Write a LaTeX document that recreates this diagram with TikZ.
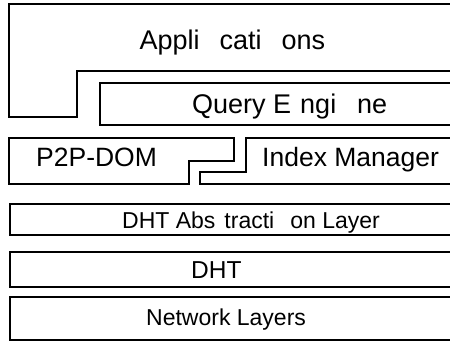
\documentclass[tikz,border=0pt]{standalone}
\usepackage{fontspec}
\setmainfont{Liberation Sans}

\tikzset{
  layer/.style={line width=1.3pt, line join=miter},
  caption/.style={anchor=base west, inner sep=0pt},
}
\newcommand{\gap}[1]{\hspace*{#1pt}}

\begin{document}
\begin{tikzpicture}[x=1pt, y=-1pt]
    % Page frame, layers run off to the right
    \clip (0,0) rectangle (450,341);

    % Applications, stepped round the query engine
    \draw[layer] (470,4) -- (9,4) -- (9,117) -- (77,117) -- (77,71) -- (470,71);
    \node[caption, font=\fontsize{27}{31}\selectfont] (apps) at (139.5,49.5)
        {Appli\gap{20}cati\gap{20}ons};

    % Query engine
    \draw[layer] (470,83) -- (100,83) -- (100,125) -- (470,125);
    \node[caption, font=\fontsize{27}{31}\selectfont] (query) at (192,113)
        {Query E\gap{9}ngi\gap{21}ne};

    % P2P-DOM and index manager, interlocked
    \draw[layer] (9,138) -- (234,138) -- (234,161) -- (189,161) -- (189,184) -- (9,184) -- cycle;
    \draw[layer] (470,138) -- (246,138) -- (246,172) -- (200,172) -- (200,184) -- (470,184);
    \node[caption, font=\fontsize{26.5}{30}\selectfont] (dom) at (36,166) {P2P-DOM};
    \node[caption, font=\fontsize{26.5}{30}\selectfont] (index) at (262,166) {Index Manager};

    % Lower layers
    \draw[layer] (470,204) -- (10,204) -- (10,235) -- (470,235);
    \node[caption, font=\fontsize{23}{27}\selectfont] (abs) at (122,228)
        {DHT Abs\gap{9}tracti\gap{16}on Layer};

    \draw[layer] (470,252) -- (10,252) -- (10,287) -- (470,287);
    \node[caption, font=\fontsize{24.5}{28}\selectfont] (dht) at (191,278.5) {DHT};

    \draw[layer] (470,297) -- (10,297) -- (10,340) -- (470,340);
    \node[caption, font=\fontsize{23}{27}\selectfont] (net) at (146,325.5) {Network Layers};
\end{tikzpicture}
\end{document}
